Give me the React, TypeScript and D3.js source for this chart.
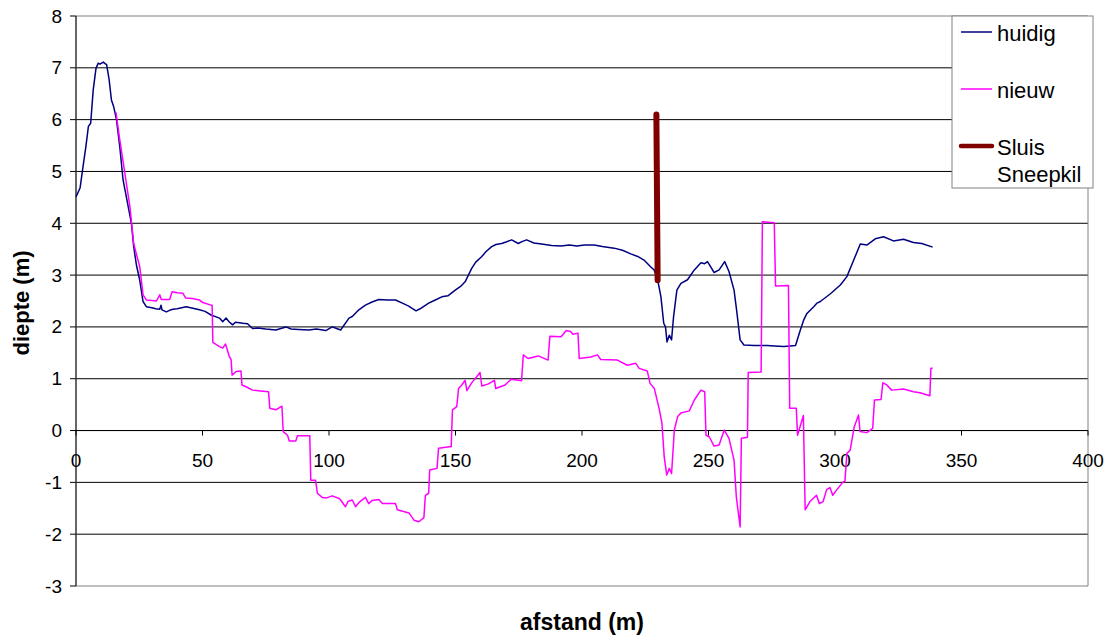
import React from "react";
import * as d3 from "d3";

const huidig: [number, number][] = [
  [0, 4.51], [1.6, 4.68], [2.6, 5.03], [3.9, 5.48], [4.9, 5.87], [5.8, 5.93], [6.8, 6.57], [7.9, 6.99],
  [8.8, 7.09], [9.5, 7.07], [10.8, 7.11], [11.5, 7.08], [12.1, 7.06], [13.1, 6.77], [14.0, 6.38], [14.9, 6.25],
  [16.0, 6.0], [17.3, 5.48], [18.6, 4.84], [19.9, 4.51], [21.9, 4.0], [22.8, 3.55], [23.9, 3.19], [25.2, 2.9],
  [26.5, 2.49], [27.8, 2.39], [30, 2.37], [31.5, 2.35], [33.1, 2.34], [33.6, 2.42], [34, 2.33], [35.7, 2.29],
  [37, 2.32], [38.3, 2.34], [40, 2.35], [43.5, 2.39], [46.2, 2.36], [48.8, 2.33], [51, 2.3], [53.4, 2.23],
  [56.7, 2.17], [58, 2.1], [59.3, 2.17], [60.5, 2.1], [61.9, 2.04], [63, 2.09], [64.6, 2.08], [66, 2.07],
  [67.8, 2.06], [69.8, 1.97], [72, 1.98], [75, 1.96], [79, 1.94], [81, 1.97], [83, 2.0], [85, 1.96],
  [88, 1.95], [92.1, 1.94], [95, 1.96], [98.7, 1.93], [101.3, 2.0], [103, 1.97], [104.6, 1.94], [107.9, 2.17],
  [109.2, 2.2], [111.8, 2.33], [114.4, 2.42], [117, 2.48], [119.7, 2.53], [123, 2.52], [126.3, 2.52], [129, 2.46],
  [131.5, 2.4], [134.4, 2.31], [136, 2.35], [139.4, 2.46], [142, 2.52], [144.6, 2.58], [147, 2.6], [149.9, 2.71],
  [152, 2.78], [153.8, 2.87], [156.4, 3.13], [158, 3.25], [160.4, 3.36], [162, 3.45], [164.3, 3.55], [166, 3.59],
  [168.2, 3.61], [170, 3.64], [172.2, 3.68], [174.8, 3.61], [176.5, 3.65], [178.1, 3.68], [181, 3.62], [184, 3.6],
  [188, 3.57], [191.7, 3.56], [195, 3.58], [198, 3.56], [201, 3.58], [204.8, 3.58], [208, 3.55], [212.7, 3.52],
  [216, 3.48], [219.3, 3.41], [222, 3.36], [224.5, 3.29], [227.1, 3.16], [228.5, 3.1], [229.9, 2.91], [231.2, 2.58],
  [232.3, 2.07], [233.0, 2.0], [233.6, 1.71], [234.5, 1.84], [235.4, 1.75], [236.2, 2.2], [237.5, 2.71], [239.1, 2.84],
  [241.7, 2.91], [244.4, 3.1], [247, 3.24], [248.5, 3.22], [249.6, 3.26], [251, 3.15], [252.2, 3.05], [254.2, 3.1],
  [256.4, 3.26], [258.1, 3.07], [260.1, 2.71], [261.1, 2.33], [262.5, 1.75], [264, 1.65], [268, 1.64], [273.2, 1.64],
  [276, 1.63], [279.8, 1.62], [284.4, 1.64], [286.3, 1.94], [287.6, 2.13], [288.9, 2.26], [291.6, 2.39], [292.9, 2.46],
  [294.2, 2.49], [298.2, 2.64], [302.1, 2.81], [304.7, 2.97], [307.4, 3.29], [310, 3.6], [312.6, 3.58], [315.9, 3.7],
  [319.2, 3.74], [323.1, 3.66], [327.1, 3.69], [331, 3.63], [334.3, 3.61], [338.6, 3.54],
];

const nieuw: [number, number][] = [
  [15.8, 6.14], [17.3, 5.61], [19.3, 4.97], [21.3, 4.32], [22.8, 3.61], [24.1, 3.36], [25.2, 3.16], [26.5, 2.62],
  [27.8, 2.52], [30, 2.51], [31.8, 2.5], [33.1, 2.62], [33.7, 2.53], [37, 2.53], [38, 2.68], [40, 2.66],
  [42.2, 2.65], [43.3, 2.56], [46, 2.55], [48.8, 2.52], [50.1, 2.47], [53.4, 2.42], [53.8, 2.42], [54.1, 1.7],
  [56.7, 1.62], [58, 1.59], [59.1, 1.67], [60.6, 1.43], [61.3, 1.37], [61.7, 1.07], [63.3, 1.14], [65.2, 1.15],
  [65.6, 0.88], [67, 0.85], [69.8, 0.78], [72, 0.77], [76.1, 0.75], [76.6, 0.43], [79, 0.4], [81.4, 0.47],
  [81.9, -0.02], [83.6, -0.09], [84.3, -0.2], [86.9, -0.2], [87.5, -0.1], [92.4, -0.1], [92.8, -0.96], [94.7, -0.96],
  [95.4, -1.21], [97.3, -1.29], [99, -1.3], [101.3, -1.26], [104, -1.31], [104.6, -1.34], [106.5, -1.47], [107.5, -1.37],
  [109.2, -1.34], [110.5, -1.47], [112, -1.38], [114.4, -1.29], [115.7, -1.41], [117, -1.35], [119.7, -1.33], [121.1, -1.41],
  [126.3, -1.41], [127, -1.53], [131.6, -1.59], [133.6, -1.73], [135.5, -1.76], [137.5, -1.68], [138.1, -1.25], [139.4, -1.21],
  [139.8, -0.76], [142.7, -0.73], [143.3, -0.34], [148.3, -0.31], [148.8, 0.4], [150.5, 0.46], [151.2, 0.81], [152.5, 0.88],
  [153.8, 0.97], [154.5, 0.77], [156.4, 0.92], [159.7, 1.12], [160.4, 0.86], [163, 0.9], [165.4, 0.97], [165.9, 0.81],
  [169.6, 0.88], [172, 0.99], [174.8, 0.97], [176.1, 0.96], [176.8, 1.46], [178.7, 1.39], [182.7, 1.44], [186.6, 1.36],
  [187.3, 1.82], [191.7, 1.81], [193.8, 1.93], [195.5, 1.91], [196.4, 1.86], [198.4, 1.88], [198.9, 1.39], [203.5, 1.42],
  [206.1, 1.46], [207.4, 1.37], [214, 1.36], [217.9, 1.26], [221.2, 1.3], [222.6, 1.2], [225.8, 1.15], [226.9, 0.91],
  [228.6, 0.81], [230.6, 0.4], [231.6, 0.14], [232.5, -0.51], [233.5, -0.86], [234.5, -0.73], [235.4, -0.83], [236.5, 0.01],
  [237.8, 0.27], [239.1, 0.34], [242.4, 0.38], [244.4, 0.59], [247, 0.78], [248.5, 0.75], [249, -0.09], [250.3, -0.12],
  [252.2, -0.3], [254.2, -0.28], [256.2, 0.01], [258.1, -0.15], [260.1, -0.57], [261, -1.28], [262.5, -1.86], [263, -0.15],
  [265.4, -0.13], [265.7, 1.12], [270.8, 1.13], [271.3, 4.03], [276, 4.01], [276.5, 2.79], [281.6, 2.8], [282.1, 0.43],
  [284.7, 0.43], [285.2, -0.09], [287.5, 0.29], [288.2, -1.53], [290.1, -1.37], [292.7, -1.25], [293.8, -1.41], [295.3, -1.37],
  [296.7, -1.14], [298, -1.1], [299.1, -1.25], [300.6, -1.15], [303.2, -0.99], [303.9, -0.99], [304.7, -0.44], [306, -0.38],
  [307.6, 0.07], [309.3, 0.3], [309.9, -0.02], [312.6, -0.04], [314.9, 0.04], [315.6, 0.59], [318.2, 0.6], [318.9, 0.92],
  [320.5, 0.88], [322.4, 0.78], [327.1, 0.8], [331, 0.75], [333.6, 0.73], [337.5, 0.67], [337.9, 1.2], [338.6, 1.2],
];

const sluis: [number, number][] = [
  [229.4, 6.1],
  [229.9, 2.9],
];

const xTicks = [0, 50, 100, 150, 200, 250, 300, 350, 400];
const yTicks = [-3, -2, -1, 0, 1, 2, 3, 4, 5, 6, 7, 8];

const legendItems = [
  { label: ["huidig"], color: "#000080", width: 1.5 },
  { label: ["nieuw"], color: "#FF00FF", width: 1.5 },
  { label: ["Sluis", "Sneepkil"], color: "#800000", width: 4.5 },
];

const FONT = "'Liberation Sans', Arial, Helvetica, sans-serif";

export default function App() {
  const W = 1107;
  const H = 637;
  const left = 76;
  const right = 1088;
  const top = 16;
  const bottom = 586;

  const x = d3.scaleLinear().domain([0, 400]).range([left, right]);
  const y = d3.scaleLinear().domain([-3, 8]).range([bottom, top]);
  const line = d3
    .line<[number, number]>()
    .x((d) => x(d[0]))
    .y((d) => y(d[1]));

  const legX = 952;
  const legY = 16;
  const legW = 141;
  const legH = 172;
  const legRows = [32, 89, 146];

  return (
    <svg
      width={W}
      height={H}
      style={{ position: "absolute", left: 0, top: 0, background: "#fff" }}
      fontFamily={FONT}
    >
      <rect x={0} y={0} width={W} height={H} fill="#fff" />
      {yTicks.map((t) => (
        <line
          key={"g" + t}
          x1={left}
          x2={right}
          y1={y(t)}
          y2={y(t)}
          stroke={t === -3 || t === 8 ? "#808080" : "#000"}
          strokeWidth={1}
        />
      ))}
      <line x1={right} x2={right} y1={top} y2={bottom} stroke="#808080" strokeWidth={1} />
      <line x1={left} x2={left} y1={top} y2={bottom} stroke="#404040" strokeWidth={1.6} />
      {yTicks.map((t) => (
        <g key={"yt" + t}>
          <line x1={left - 6} x2={left} y1={y(t)} y2={y(t)} stroke="#000" strokeWidth={1} />
          <text x={62} y={y(t) + 6.5} textAnchor="end" fontSize={19} fill="#000">
            {t}
          </text>
        </g>
      ))}
      <line x1={left} x2={right} y1={y(0)} y2={y(0)} stroke="#000" strokeWidth={1} />
      {xTicks.map((t) => (
        <g key={"xt" + t}>
          <line x1={x(t)} x2={x(t)} y1={y(0)} y2={y(0) + 5} stroke="#000" strokeWidth={1} />
          <text x={x(t)} y={467} textAnchor="middle" fontSize={19} fill="#000">
            {t}
          </text>
        </g>
      ))}
      <path d={line(huidig) || ""} fill="none" stroke="#000080" strokeWidth={1.5} strokeLinejoin="round" />
      <path d={line(nieuw) || ""} fill="none" stroke="#FF00FF" strokeWidth={1.5} strokeLinejoin="round" />
      <path
        d={line(sluis) || ""}
        fill="none"
        stroke="#800000"
        strokeWidth={6}
        strokeLinecap="round"
      />
      <text x={582} y={630} textAnchor="middle" fontSize={23} fontWeight="bold" fill="#000">
        afstand (m)
      </text>
      <text
        transform={`translate(29, ${303}) rotate(-90)`}
        textAnchor="middle"
        fontSize={22}
        fontWeight="bold"
        fill="#000"
      >
        diepte (m)
      </text>
      <rect x={legX} y={legY} width={legW} height={legH} fill="#fff" stroke="#808080" strokeWidth={1} />
      {legendItems.map((it, i) => (
        <g key={"l" + i}>
          <line
            x1={961}
            x2={992}
            y1={legRows[i]}
            y2={legRows[i]}
            stroke={it.color}
            strokeWidth={it.width}
            strokeLinecap={it.width > 2 ? "round" : "butt"}
          />
          {it.label.map((s, j) => (
            <text key={j} x={997} y={legRows[i] + 9 + j * 27} fontSize={22} fill="#000">
              {s}
            </text>
          ))}
        </g>
      ))}
    </svg>
  );
}
